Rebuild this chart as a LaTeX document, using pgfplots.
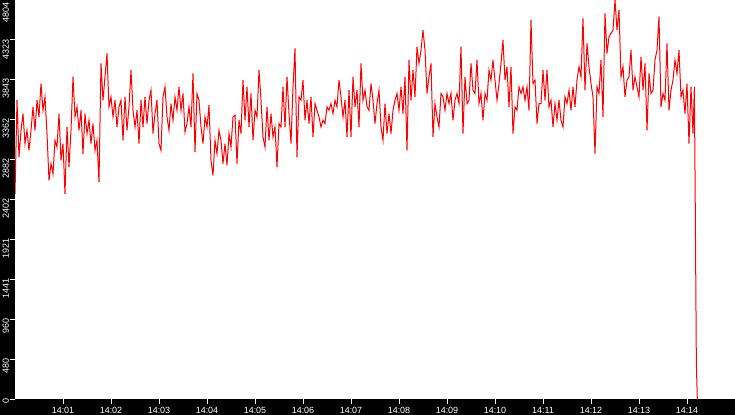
\documentclass[border=0pt]{standalone}
\usepackage{fontspec}
\setmainfont{Liberation Sans}
\usepackage{pgfplots}
\pgfplotsset{compat=1.18}

\begin{document}
\begin{tikzpicture}
\fill[black] (-15bp,-16bp) rectangle (720bp,399bp);
\useasboundingbox (-15bp,-16bp) rectangle (720bp,399bp);
\begin{axis}[
    at={(0,0)}, anchor=south west,
    width=720bp, height=399bp, scale only axis,
    xmin=0, xmax=900,
    ymin=0, ymax=4804,
    axis background/.style={fill=white},
    axis line style={draw=none},
    tick align=outside,
    major tick length=5bp,
    tick style={white, line width=1bp},
    xtick={60,120,...,840},
    xticklabels={14:01,14:02,14:03,14:04,14:05,14:06,14:07,14:08,14:09,14:10,14:11,14:12,14:13,14:14},
    ytick={0,480.4,960.8,1441.2,1921.6,2402,2882.4,3362.8,3843.2,4323.6},
    yticklabels={0,480,960,1441,1921,2402,2882,3362,3843,4323},
    extra y ticks={4804},
    extra y tick labels={4804},
    extra y tick style={yticklabel style={xshift=-3bp}},
    ticklabel style={font=\fontsize{9}{10}\selectfont, text=white},
    xticklabel style={anchor=base, inner sep=0pt, yshift=-9bp},
    yticklabel style={xshift=-1bp, yshift=1bp, rotate=90, anchor=base east, inner sep=0pt},
]
% throughput samples, 2.5 s apart from 14:00:00
\addplot[red, line width=1bp] coordinates {
(0,2471)(2.5,3597)(5,2913)(7.5,3235)(10,3436)(12.5,3074)(15,3235)(17.5,2994)(20,3235)(22.5,3517)
(25,3235)(27.5,3597)(30,3396)(32.5,3798)(35,3476)(37.5,3637)(40,3195)(42.5,2632)(45,2833)(47.5,2712)
(50,3114)(52.5,3034)(55,3436)(57.5,2873)(60,3074)(62.5,2471)(65,3275)(67.5,2793)(70,3235)(72.5,3879)
(75,3396)(77.5,3517)(80,3235)(82.5,3476)(85,2953)(87.5,3436)(90,3195)(92.5,3356)(95,3074)(97.5,3316)
(100,2994)(102.5,3114)(105,2612)(107.5,4040)(110,3597)(112.5,3879)(115,4160)(117.5,3517)(120,3637)(122.5,3396)
(125,3597)(127.5,3275)(130,3517)
(132.5,3597)(135,3114)(137.5,3637)(140,3235)(142.5,3517)(145,3959)(147.5,3476)(150,3275)(152.5,3476)(155,3074)
(157.5,3597)(160,3275)(162.5,3637)(165,3316)(167.5,3597)(170,3718)(172.5,3195)(175,3436)(177.5,3597)(180,3074)
(182.5,2994)(185,3637)(187.5,3758)(190,3396)(192.5,3235)(195,3557)(197.5,3356)(200,3637)(202.5,3476)(205,3758)
(207.5,3476)(210,3678)(212.5,3215)(215,3316)(217.5,3517)(220,3275)(222.5,3919)(225,2974)(227.5,3678)(230,3597)
(232.5,3275)(235,3074)(237.5,3396)(240,3275)(242.5,3537)(245,2873)(247.5,2692)(250,3114)(252.5,2953)(255,3235)
(257.5,3114)(260,2833)(262.5,3074)(265,2813)(267.5,3195)(270,3034)(272.5,3396)
(275,3416)(277.5,2833)(280,3356)(282.5,3195)(285,3839)(287.5,3356)(290,3758)(292.5,3275)(295,3678)(297.5,3114)
(300,3476)(302.5,3396)(305,3959)(307.5,3597)(310,3155)(312.5,3034)(315,3517)(317.5,3114)(320,3436)(322.5,3155)
(325,3275)(327.5,2793)(330,3316)(332.5,3275)(335,3758)(337.5,3275)(340,3879)(342.5,3436)(345,3074)(347.5,3758)
(350,4221)(352.5,2913)(355,3637)(357.5,3597)(360,3839)(362.5,3356)(365,3597)(367.5,3316)(370,3637)(372.5,3155)
(375,3557)(377.5,3476)(380,3396)(382.5,3275)(385,3356)(387.5,3316)(390,3517)(392.5,3476)(395,3557)(397.5,3436)
(400,3597)(402.5,3517)(405,3839)(407.5,3637)(410,3396)(412.5,3597)(415,3155)(417.5,3718)
(420,3155)(422.5,3879)(425,3517)(427.5,3718)(430,3275)(432.5,4040)(435,3597)(437.5,3718)(440,3517)(442.5,3476)
(445,3798)(447.5,3597)(450,3316)(452.5,3557)(455,3718)(457.5,3275)(460,3114)(462.5,3557)(465,3195)(467.5,3436)
(470,3195)(472.5,3476)(475,3597)(477.5,3678)(480,3476)(482.5,3758)(485,3436)(487.5,3879)(490,2994)(492.5,4080)
(495,3597)(497.5,3959)(500,3637)(502.5,4241)(505,4040)(507.5,4201)(510,4442)(512.5,4201)(515,3678)(517.5,3879)
(520,4040)(522.5,3155)(525,3557)(527.5,3396)(530,3275)(532.5,3678)(535,3637)(537.5,3476)(540,3678)(542.5,3557)
(545,3678)(547.5,3356)(550,3597)(552.5,3678)(555,3557)(557.5,4241)(560,3195)
(562.5,3879)(565,3557)(567.5,3597)(570,4040)(572.5,3718)(575,3678)(577.5,4080)(580,3557)(582.5,3678)(585,3356)
(587.5,3678)(590,3597)(592.5,3959)(595,3839)(597.5,4080)(600,3839)(602.5,3597)(605,3798)(607.5,4040)(610,4321)
(612.5,3839)(615,4000)(617.5,3517)(620,4000)(622.5,3195)(625,3517)(627.5,3476)(630,3758)(632.5,3678)(635,3758)
(637.5,3597)(640,3758)(642.5,3476)(645,4563)(647.5,3798)(650,3839)(652.5,3316)(655,3557)(657.5,3557)(660,3959)
(662.5,3597)(665,3959)(667.5,3517)(670,3597)(672.5,3275)(675,3557)(677.5,3356)(680,3597)(682.5,3356)(685,3275)
(687.5,3637)(690,3557)(692.5,3718)(695,3476)(697.5,3758)(700,3517)(702.5,3839)(705,4000)
(707.5,3879)(710,4583)(712.5,3718)(715,4281)(717.5,4000)(720,3798)(722.5,3637)(725,2953)(727.5,3758)(730,3678)
(732.5,4080)(735,3396)(737.5,4643)(740,4160)(742.5,4361)(745,4402)(747.5,4442)(750,4804)(752.5,4442)(755,4683)
(757.5,3879)(760,4000)(762.5,3637)(765,3839)(767.5,3879)(770,4201)(772.5,3718)(775,3879)(777.5,3758)(780,3637)
(782.5,4120)(785,3718)(787.5,4040)(790,3235)(792.5,3919)(795,3678)(797.5,3718)(800,4080)(802.5,4201)(805,4603)
(807.5,3517)(810,3678)(812.5,3597)(815,4281)(817.5,3476)(820,3718)(822.5,3839)(825,4080)(827.5,3919)(830,4201)
(832.5,3637)(835,3718)(837.5,3436)(840,3798)(842.5,3074)(845,3758)(847.5,3195)
(849.2,3758)(850.4,2249)(851.7,419)(852.9,0)
};
\end{axis}
\end{tikzpicture}
\end{document}
